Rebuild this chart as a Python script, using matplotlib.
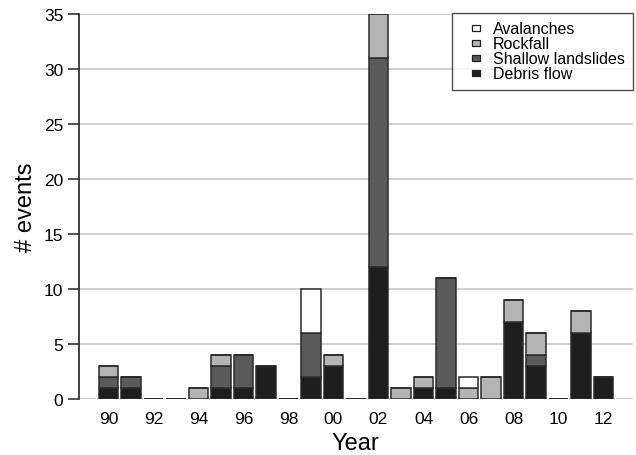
import matplotlib
matplotlib.use("Agg")
import matplotlib.pyplot as plt
from matplotlib.lines import Line2D
import numpy as np

plt.rcParams['font.family'] = ['Liberation Sans', 'DejaVu Sans']

years = list(range(1990, 2013))
debris_flow = [1, 1, 0, 0, 0, 1, 1, 3, 0, 2, 3, 0, 12, 0, 1, 1, 0, 0, 7, 3, 0, 6, 2]
shallow_landslides = [1, 1, 0, 0, 0, 2, 3, 0, 0, 4, 0, 0, 19, 0, 0, 10, 0, 0, 0, 1, 0, 0, 0]
rockfall = [1, 0, 0, 0, 1, 1, 0, 0, 0, 0, 1, 0, 4, 1, 1, 0, 1, 2, 2, 2, 0, 2, 0]
avalanches = [0, 0, 0, 0, 0, 0, 0, 0, 0, 4, 0, 0, 0, 0, 0, 0, 1, 0, 0, 0, 0, 0, 0]
tick_years = list(range(1990, 2013, 2))
tick_labels = ["90", "92", "94", "96", "98", "00", "02", "04", "06", "08", "10", "12"]

series = [
    ("Debris flow", debris_flow, "#1e1e1e"),
    ("Shallow landslides", shallow_landslides, "#5a5a5a"),
    ("Rockfall", rockfall, "#b4b4b4"),
    ("Avalanches", avalanches, "#ffffff"),
]

fig = plt.figure(figsize=(6.36, 4.56), dpi=100)
ax = fig.add_axes([0.1237, 0.1239, 0.871, 0.844])

x = np.array(years)
bottom = np.zeros(len(years))
for name, vals, col in series:
    vals = np.array(vals, dtype=float)
    ax.bar(x, vals, bottom=bottom, width=0.87, color=col,
           edgecolor="#2a2a2a", linewidth=1.1, label=name, zorder=3)
    bottom += vals

ax.set_ylim(0, 35)
ax.set_xlim(1988.68, 2013.29)
ax.set_yticks(range(0, 36, 5))
ax.set_xticks(tick_years)
ax.set_xticklabels(tick_labels)
ax.yaxis.grid(True, color="#c8c8c8", linewidth=1.2, zorder=0)
ax.set_axisbelow(True)
for s in ["top", "right", "bottom"]:
    ax.spines[s].set_visible(False)
ax.spines["left"].set_color("#222222")
ax.spines["left"].set_linewidth(1.2)
ax.tick_params(axis="y", length=8, width=1.1, color="#222222", labelsize=12.5, pad=3)
ax.tick_params(axis="x", length=0, labelsize=12.5, pad=9)
ax.set_xlabel("Year", fontsize=17, labelpad=4)
ax.set_ylabel("# events", fontsize=17, labelpad=5)

# small rectangular swatches for the legend
rect = [(-1, -0.7), (1, -0.7), (1, 0.7), (-1, 0.7), (-1, -0.7)]
leg_handles = [Line2D([], [], linestyle="None", marker=rect, markersize=6.2,
                      markerfacecolor=col, markeredgecolor="#222222",
                      markeredgewidth=0.9, label=name)
               for name, _, col in series[::-1]]

leg = ax.legend(handles=leg_handles,
                loc="upper right", bbox_to_anchor=(0.996, 0.97),
                bbox_transform=fig.transFigure, borderaxespad=0,
                fontsize=11.5, frameon=True, fancybox=False,
                handlelength=1.9, handletextpad=0.1,
                labelspacing=0.0, borderpad=0.55)
leg.get_frame().set_edgecolor("#222222")
leg.get_frame().set_linewidth(1.0)
leg.set_zorder(5)

fig.savefig("out.png", dpi=100, facecolor="white")
